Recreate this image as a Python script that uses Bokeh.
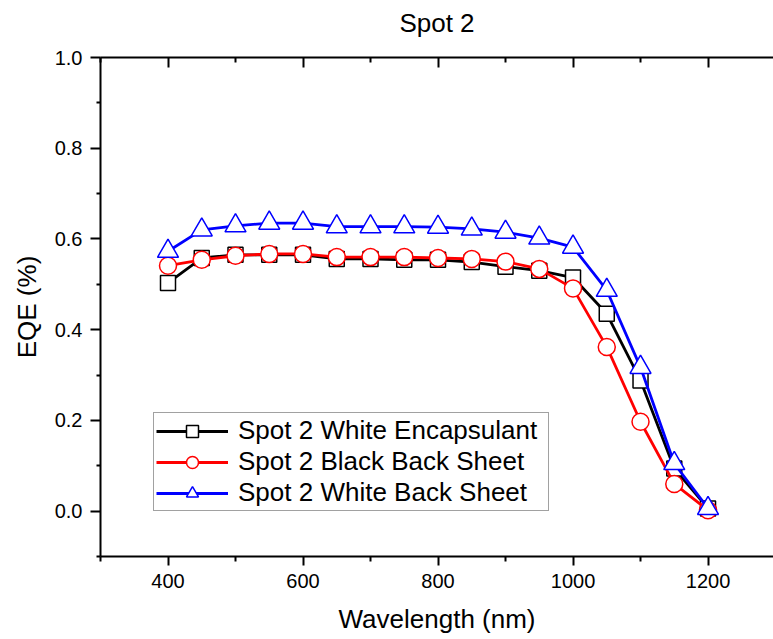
from bokeh.plotting import figure
from bokeh.models import LinearAxis, FixedTicker, Range1d, Legend, LegendItem, ColumnDataSource
from bokeh.embed import file_html
from bokeh.resources import INLINE

wavelength = [400, 450, 500, 550, 600, 650, 700, 750, 800, 850, 900, 950, 1000, 1050, 1100, 1150, 1200]
white_encapsulant = [0.503, 0.558, 0.565, 0.565, 0.565, 0.556, 0.556, 0.554, 0.554, 0.549, 0.539, 0.530, 0.515, 0.435, 0.288, 0.094, 0.006]
black_back_sheet = [0.541, 0.554, 0.563, 0.567, 0.567, 0.560, 0.560, 0.560, 0.558, 0.556, 0.550, 0.534, 0.491, 0.362, 0.197, 0.060, 0.002]
white_back_sheet = [0.573, 0.620, 0.629, 0.635, 0.635, 0.627, 0.627, 0.627, 0.626, 0.622, 0.615, 0.602, 0.582, 0.487, 0.317, 0.105, 0.006]

title_text = "Spot 2"
series_labels = ["Spot 2 White Encapsulant", "Spot 2 Black Back Sheet", "Spot 2 White Back Sheet"]
x_ticks = [400, 600, 800, 1000, 1200]
x_minor = [300, 500, 700, 900, 1100, 1300]
y_ticks = [0.0, 0.2, 0.4, 0.6, 0.8, 1.0]
y_minor = [-0.1, 0.1, 0.3, 0.5, 0.7, 0.9]

FONT = "Liberation Sans"

p = figure(width=773, height=639, output_backend="svg", toolbar_location=None,
           x_range=Range1d(300, 1297), y_range=Range1d(-0.1, 1.0),
           min_border_left=100, min_border_right=0, min_border_top=57, min_border_bottom=83)
p.xgrid.visible = False
p.ygrid.visible = False
p.outline_line_color = None
p.background_fill_color = "white"
p.border_fill_color = "white"

xa = p.xaxis[0]
xa.ticker = FixedTicker(ticks=x_ticks, minor_ticks=x_minor)
xa.axis_label = "Wavelength (nm)"
ya = p.yaxis[0]
ya.ticker = FixedTicker(ticks=y_ticks, minor_ticks=y_minor)
ya.major_label_overrides = {v: f"{v:.1f}" for v in y_ticks}
ya.axis_label = "EQE (%)"

for ax in (xa, ya):
    ax.axis_line_width = 2
    ax.axis_line_color = "black"
    ax.major_tick_line_width = 2
    ax.minor_tick_line_width = 2
    ax.major_tick_in = 0
    ax.minor_tick_in = 0
    ax.major_label_text_font = FONT
    ax.major_label_text_font_size = "20px"
    ax.major_label_text_color = "black"
    ax.axis_label_text_font = FONT
    ax.axis_label_text_font_size = "26px"
    ax.axis_label_text_font_style = "normal"
    ax.axis_label_text_color = "black"

xa.major_tick_out = 9
xa.minor_tick_out = 5
xa.major_label_standoff = 8
xa.axis_label_standoff = 13
ya.major_tick_out = 10
ya.minor_tick_out = 4
ya.major_label_standoff = 8
ya.axis_label_standoff = 10

# top axis: inward ticks, no tick labels, carries the chart title as its label
top = LinearAxis(ticker=FixedTicker(ticks=x_ticks, minor_ticks=x_minor))
top.major_tick_in = 10
top.minor_tick_in = 5
top.major_tick_out = 0
top.minor_tick_out = 0
top.axis_line_width = 2
top.major_tick_line_width = 2
top.minor_tick_line_width = 2
top.major_label_text_font_size = "1px"
top.major_label_text_color = None
top.major_label_standoff = 0
top.axis_label = title_text
top.axis_label_text_font = FONT
top.axis_label_text_font_size = "26px"
top.axis_label_text_font_style = "normal"
top.axis_label_text_color = "black"
top.axis_label_standoff = 20
p.add_layout(top, "above")

src = ColumnDataSource(dict(x=wavelength, a=white_encapsulant, b=black_back_sheet, c=white_back_sheet))

items = []
specs = [("a", "black", "square", 15), ("b", "red", "circle", 17), ("c", "blue", "triangle", 21)]
for (col, color, marker, size), label in zip(specs, series_labels):
    lr = p.line("x", col, source=src, line_color=color, line_width=2.8)
    sr = p.scatter("x", col, source=src, marker=marker, size=size, fill_color="white",
                   line_color=color, line_width=1.5)
    items.append(LegendItem(label=label, renderers=[lr, sr]))

legend = Legend(items=items, location=(53, 45))
legend.label_text_font = FONT
legend.label_text_font_size = "26px"
legend.label_text_color = "black"
legend.border_line_color = "#444444"
legend.border_line_width = 1.5
legend.padding = 2
legend.spacing = 0
legend.margin = 0
legend.label_height = 28
legend.glyph_height = 30
legend.glyph_width = 72
legend.label_standoff = 10
legend.label_width = 308
legend.background_fill_alpha = 1
p.add_layout(legend, "center")

open("out.html", "w").write(file_html(p, INLINE))
